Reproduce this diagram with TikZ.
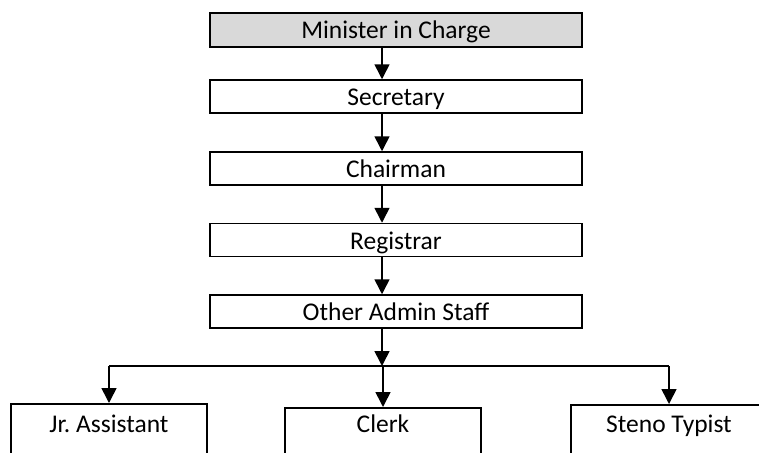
\documentclass[tikz,border=0pt]{standalone}
\usepackage{fontspec}
\setmainfont{Carlito}
\usetikzlibrary{positioning, calc, arrows.meta}
\frenchspacing

\definecolor{boxgray}{HTML}{D9D9D9}
\tikzset{
  orgbox/.style={draw, line width=1.5pt, minimum width=372pt, minimum height=33pt,
    inner sep=0pt, text height=19pt, text depth=1pt,
    font=\fontsize{25.5}{30}\selectfont},
  topbox/.style={orgbox, fill=boxgray, minimum height=34pt},
  staffbox/.style={draw, line width=1.5pt, minimum width=196pt, anchor=north,
    inner xsep=0pt, inner ysep=12pt, text height=17pt, text depth=80pt,
    font=\fontsize{25.5}{30}\selectfont},
  arr/.style={line width=1.6pt, -{Triangle[width=15pt,length=15pt]}}
}

\begin{document}
\begin{tikzpicture}[x=1pt, y=-1pt]
	\useasboundingbox (0,0) rectangle (759,452);
	\clip (0,0) rectangle (759,452);
	% chain of command
	\node[topbox] (min) at (396,30) {Minister in Charge};
	\node[orgbox] (sec) at (396,96.5) {Secretary};
	\node[orgbox] (cha) at (396,168.5) {Chairman};
	\node[orgbox] (reg) at (396,240) {Registrar};
	\node[orgbox] (oth) at (396,311.5) {Other Admin Staff};
	% staff row
	\node[staffbox] (jr) at (109,403) {Jr. Assistant};
	\node[staffbox, inner ysep=8pt] (clk) at (383,407) {Clerk};
	\node[staffbox, inner ysep=11pt] (sty) at (669,404) {Steno Typist};
	\coordinate (spine) at (382,0);
	\coordinate (bus) at (382,366);
	\foreach \a/\b in {min/sec, sec/cha, cha/reg, reg/oth}
		\draw[arr] (\a.south -| spine) -- (\b.north -| spine);
	\draw[arr] (oth.south -| spine) -- (bus);
	\draw[line width=1.6pt] (jr.north |- bus) -- (sty.north |- bus);
	\foreach \n in {jr, clk, sty}
		\draw[arr] (\n.north |- bus) -- (\n.north);
\end{tikzpicture}
\end{document}
